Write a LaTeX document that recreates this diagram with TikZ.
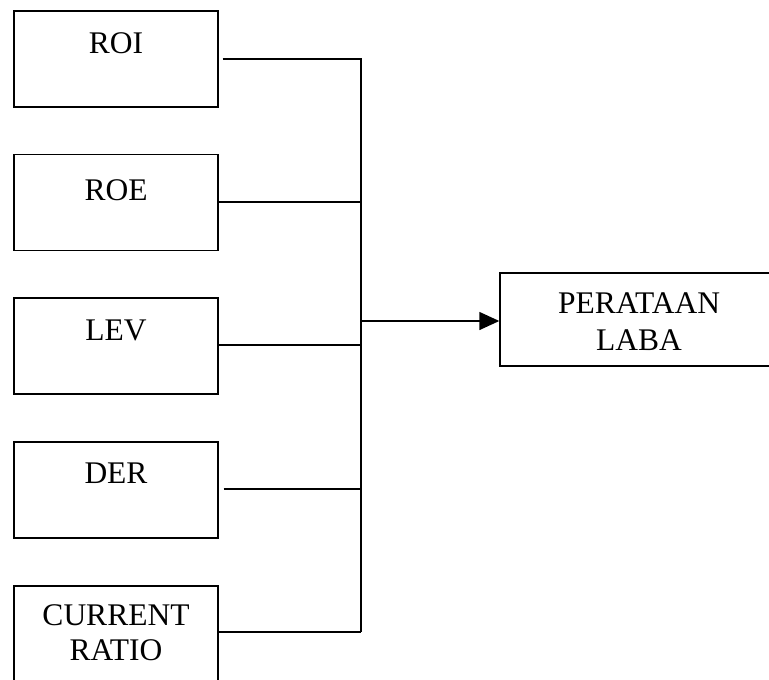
\documentclass[tikz,border=0pt]{standalone}
\usepackage{fontspec}
\setmainfont{Liberation Serif}
\usetikzlibrary{arrows.meta}
\begin{document}
\begin{tikzpicture}[x=1pt,y=-1pt,
  box/.style={draw,line width=1.4pt,rectangle,minimum width=204pt,minimum height=96pt,inner sep=0pt},
  bigbox/.style={draw,line width=1.4pt,rectangle,minimum width=278pt,minimum height=93pt,inner sep=0pt},
  txt/.style={anchor=base,inner sep=0pt,font=\fontsize{31.5}{36}\selectfont},
  conn/.style={line width=1.4pt}]
\useasboundingbox (0,0) rectangle (769,680);
\node[box] (roi) at (116,59) {};
\node[txt] (roit) at (116,53) {ROI};
\node[box] (roe) at (116,202.5) {};
\node[txt] (roet) at (116,200) {ROE};
\node[box] (lev) at (116,346) {};
\node[txt] (levt) at (116,340) {LEV};
\node[box] (der) at (116,490) {};
\node[txt] (dert) at (116,483) {DER};
\node[box] (cr) at (116,634) {};
\node[txt] (crt1) at (116,625) {CURRENT};
\node[txt] (crt2) at (116,660) {RATIO};
\node[bigbox] (pl) at (639,319.5) {};
\node[txt] (plt1) at (639,313) {PERATAAN};
\node[txt] (plt2) at (639,350) {LABA};
\coordinate (jtop) at (361,59);
\coordinate (jroe) at (361,202);
\coordinate (jlev) at (361,345);
\coordinate (jder) at (361,489);
\coordinate (jbot) at (361,632);
\coordinate (jout) at (361,321);
\draw[conn] (roi.east) ++(4,0) -- (jtop) -- (jbot);
\draw[conn] (roe.east |- jroe) -- (jroe);
\draw[conn] (lev.east |- jlev) -- (jlev);
\draw[conn] (der.east |- jder) ++(5,0) -- (jder);
\draw[conn] (cr.east |- jbot) -- (jbot);
\draw[conn,-{Triangle[length=20pt,width=18pt]}] (jout) -- (pl.west |- jout);
\end{tikzpicture}
\end{document}
